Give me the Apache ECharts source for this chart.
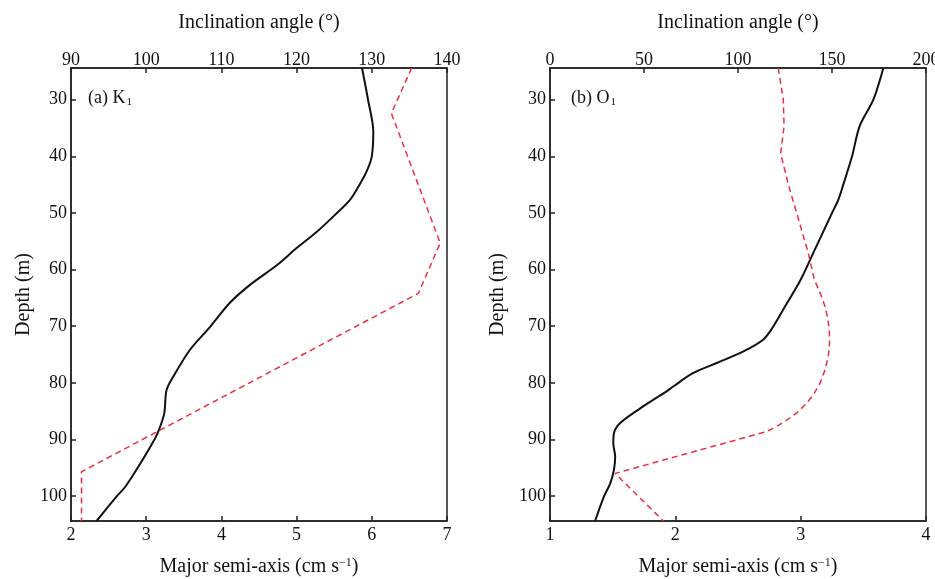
<!DOCTYPE html>
<html>
<head>
<meta charset="utf-8">
<script src="https://cdn.jsdelivr.net/npm/echarts@6/dist/echarts.min.js"></script>
<style>html,body{margin:0;padding:0;background:#fff}#c{width:935px;height:579px}</style>
</head>
<body>
<div id="c"></div>
<script>
// ---- Data ----
const depthTicks = [30, 40, 50, 60, 70, 80, 90, 100];

// (a) K1 major semi-axis (cm/s)
const k1MajorDepth = [24.4, 30, 35.6, 40, 42.4, 44.7, 47.7, 50.6, 53.3, 56.2, 59.2, 62.7, 65.9, 70.1, 74.2, 78.9, 81.3, 85.4, 88.3, 90, 94.3, 98.4, 100, 104.4];
const k1Major = [5.87, 5.95, 6.02, 6.0, 5.94, 5.85, 5.71, 5.49, 5.27, 5.0, 4.74, 4.38, 4.11, 3.85, 3.58, 3.36, 3.27, 3.24, 3.17, 3.11, 2.92, 2.72, 2.61, 2.34];
// (a) K1 inclination angle (deg)
const k1IncDepth = [24.4, 32.4, 55.3, 64.2, 95.7, 104.4];
const k1Inc = [135.3, 132.6, 139.1, 136.2, 91.4, 91.4];

// (b) O1 major semi-axis (cm/s)
const o1MajorDepth = [24.4, 30, 34.7, 40, 45, 47.7, 50, 57.1, 61.8, 67.1, 70.1, 72.4, 74.5, 76.5, 78.3, 80.7, 81.5, 84.5, 87.1, 88.9, 90.7, 93.0, 95.4, 97.8, 100.1, 104.4];
const o1Major = [3.66, 3.58, 3.47, 3.41, 3.34, 3.30, 3.25, 3.10, 3.0, 2.86, 2.78, 2.70, 2.54, 2.33, 2.14, 1.98, 1.93, 1.72, 1.56, 1.51, 1.505, 1.52, 1.51, 1.48, 1.43, 1.36];
// (b) O1 inclination angle (deg)
const o1IncDepth = [24.4, 30, 34.7, 39.5, 45, 50, 57.1, 61.8, 64.2, 66.5, 68.6, 70.7, 73.0, 75.4, 77.8, 80.1, 82.0, 83.6, 85.2, 86.6, 87.7, 88.6, 96.0, 104.4];
const o1Inc = [121.4, 124.1, 124.5, 122.7, 126.8, 131.2, 137.4, 140.6, 143.8, 146.3, 147.7, 148.6, 148.7, 148.0, 146.2, 143.6, 140.3, 136.5, 131.6, 125.9, 120.5, 115.2, 34.6, 60.3];

// ---- Helpers ----
const pair = (vals, depths) => vals.map((v, i) => [v, depths[i]]);
const FONT = 'Liberation Serif';
const AX = '#222';

function xAx(gridIndex, pos, min, max, interval, name) {
  return {
    type: 'value', gridIndex, position: pos, min, max, interval,
    name, nameLocation: 'middle', nameGap: pos === 'top' ? 35 : 36, nameMoveOverlap: false,
    nameTextStyle: {
      fontFamily: FONT, fontSize: 20, color: '#111',
      rich: { sup: { fontFamily: FONT, fontSize: 12, verticalAlign: 'top', padding: [0, 0, 8, 0], color: '#111' } }
    },
    axisLine: { show: true, lineStyle: { color: AX, width: 1.5 } },
    axisTick: { show: true, inside: true, length: 5, lineStyle: { color: AX, width: 1.5 } },
    axisLabel: { fontFamily: FONT, fontSize: 18, color: '#111', margin: pos === 'top' ? -1 : 5 },
    splitLine: { show: false }
  };
}
function yAx(gridIndex, gap) {
  return {
    type: 'value', gridIndex, inverse: true, min: 24.4, max: 104.4,
    name: 'Depth (m)', nameLocation: 'middle', nameGap: gap, nameRotate: 90, nameMoveOverlap: false,
    nameTextStyle: { fontFamily: FONT, fontSize: 20, color: '#111' },
    axisLine: { show: true, lineStyle: { color: AX, width: 1.5 } },
    axisTick: { show: true, inside: true, length: 5, customValues: depthTicks, lineStyle: { color: AX, width: 1.5 } },
    axisLabel: { fontFamily: FONT, fontSize: 18, color: '#111', margin: 4, customValues: depthTicks },
    splitLine: { show: false }
  };
}
const bottomName = 'Major semi-axis (cm s{sup|−1})';

const chart = echarts.init(document.getElementById('c'), null, { renderer: 'canvas' });
chart.setOption({
  animation: false,
  backgroundColor: '#fff',
  grid: [
    { left: 71, right: 488, top: 68, bottom: 58, show: true, borderColor: AX, borderWidth: 1.5, backgroundColor: 'transparent', outerBoundsMode: 'none', containLabel: false },
    { left: 550, right: 9, top: 68, bottom: 58, show: true, borderColor: AX, borderWidth: 1.5, backgroundColor: 'transparent', outerBoundsMode: 'none', containLabel: false }
  ],
  xAxis: [
    xAx(0, 'bottom', 2, 7, 1, bottomName),
    xAx(0, 'top', 90, 140, 10, 'Inclination angle (°)'),
    xAx(1, 'bottom', 1, 4, 1, bottomName),
    xAx(1, 'top', 0, 200, 50, 'Inclination angle (°)')
  ],
  yAxis: [yAx(0, 37), yAx(1, 42)],
  graphic: [
    { type: 'text', left: 88, top: 89, style: { text: '(a) K{sub|1}', fontFamily: FONT, fontSize: 18, fill: '#111',
      rich: { sub: { fontFamily: FONT, fontSize: 11, verticalAlign: 'bottom', padding: [8, 0, 0, 1], fill: '#111' } } } },
    { type: 'text', left: 571, top: 89, style: { text: '(b) O{sub|1}', fontFamily: FONT, fontSize: 18, fill: '#111',
      rich: { sub: { fontFamily: FONT, fontSize: 11, verticalAlign: 'bottom', padding: [8, 0, 0, 1], fill: '#111' } } } }
  ],
  series: [
    { type: 'line', xAxisIndex: 0, yAxisIndex: 0, data: pair(k1Major, k1MajorDepth), smooth: 0.3, showSymbol: false,
      lineStyle: { color: '#111', width: 2 } },
    { type: 'line', xAxisIndex: 1, yAxisIndex: 0, data: pair(k1Inc, k1IncDepth), smooth: false, showSymbol: false,
      lineStyle: { color: '#ec3040', width: 1.5, type: [6, 4] } },
    { type: 'line', xAxisIndex: 2, yAxisIndex: 1, data: pair(o1Major, o1MajorDepth), smooth: 0.3, showSymbol: false,
      lineStyle: { color: '#111', width: 2 } },
    { type: 'line', xAxisIndex: 3, yAxisIndex: 1, data: pair(o1Inc, o1IncDepth), smooth: false, showSymbol: false,
      lineStyle: { color: '#ec3040', width: 1.5, type: [6, 4] } }
  ]
});
</script>
</body>
</html>
